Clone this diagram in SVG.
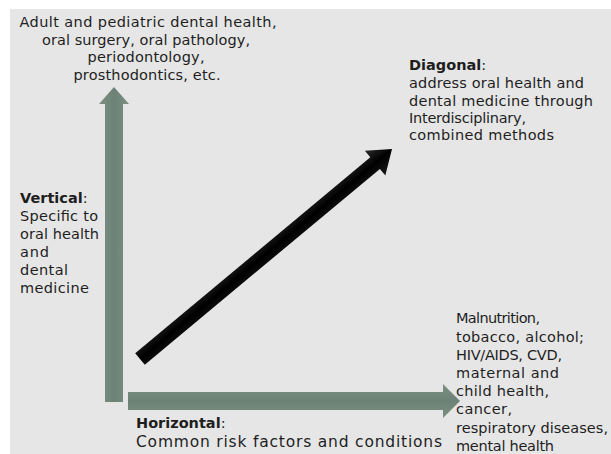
<svg xmlns="http://www.w3.org/2000/svg" width="611" height="454" viewBox="0 0 611 454">
  <defs>
    <linearGradient id="gv" x1="0" y1="0" x2="1" y2="0">
      <stop offset="0" stop-color="#7b8f83"/>
      <stop offset="0.5" stop-color="#6d8276"/>
      <stop offset="1" stop-color="#7b8f83"/>
    </linearGradient>
    <linearGradient id="gh" x1="0" y1="0" x2="0" y2="1">
      <stop offset="0" stop-color="#7b8f83"/>
      <stop offset="0.5" stop-color="#6d8276"/>
      <stop offset="1" stop-color="#7b8f83"/>
    </linearGradient>
    <linearGradient id="gd" x1="0" y1="0" x2="0" y2="1">
      <stop offset="0" stop-color="#2a2a2a"/>
      <stop offset="0.5" stop-color="#000000"/>
      <stop offset="1" stop-color="#1a1a1a"/>
    </linearGradient>
  </defs>
  <style>
    text { font-family: "DejaVu Sans", "Liberation Sans", sans-serif; font-size: 14.5px; fill: #1e1e1e; }
    .b { font-weight: bold; }
    .c { text-anchor: middle; }
    .big { font-size: 15.5px; }
  </style>
  <rect x="0" y="0" width="611" height="454" fill="#ffffff"/>
  <rect x="10" y="9" width="601" height="445" fill="#e6e6e6"/>

  <g id="connectors">
    <path id="vertical-arrow" d="M105,402 L105,104 L99,104 L114,87 L129,104 L123,104 L123,402 Z" fill="url(#gv)"/>
    <path id="horizontal-arrow" d="M128,392 L443,392 L443,384 L460,401 L443,418 L443,410 L128,410 Z" fill="url(#gh)"/>
    <path id="diagonal-arrow" transform="translate(140,359) rotate(-39.8)" d="M0,-7.5 L306,-7.5 L306,-16 L328,0 L306,16 L306,7.5 L0,7.5 Z" fill="url(#gd)"/>
  </g>

  <g id="top-label">
    <text class="c" x="148" y="27" textLength="257">Adult and pediatric dental health,</text>
    <text class="c" x="146" y="45" textLength="208">oral surgery, oral pathology,</text>
    <text class="c" x="146" y="62" textLength="117">periodontology,</text>
    <text class="c" x="147" y="80" textLength="147">prosthodontics, etc.</text>
  </g>

  <g id="diagonal-label">
    <text x="409" y="70"><tspan class="b">Diagonal</tspan>:</text>
    <text x="409" y="88" textLength="175">address oral health and</text>
    <text x="409" y="106" textLength="184">dental medicine through</text>
    <text x="409" y="123" textLength="117">Interdisciplinary,</text>
    <text x="409" y="140" textLength="145">combined methods</text>
  </g>

  <g id="vertical-label">
    <text x="20" y="203"><tspan class="b">Vertical</tspan>:</text>
    <text x="20" y="221" textLength="78">Specific to</text>
    <text x="20" y="239" textLength="79">oral health</text>
    <text x="20" y="257" textLength="29">and</text>
    <text x="20" y="275" textLength="48">dental</text>
    <text x="20" y="293" textLength="69">medicine</text>
  </g>

  <g id="horizontal-label">
    <text x="136" y="428"><tspan class="b">Horizontal</tspan>:</text>
    <text class="big" x="136" y="447" textLength="306">Common risk factors and conditions</text>
  </g>

  <g id="right-label">
    <text x="456" y="323" textLength="84">Malnutrition,</text>
    <text x="456" y="342" textLength="128">tobacco, alcohol;</text>
    <text x="456" y="360" textLength="106">HIV/AIDS, CVD,</text>
    <text x="456" y="378" textLength="103">maternal and</text>
    <text x="456" y="396" textLength="93">child health,</text>
    <text x="456" y="414" textLength="56">cancer,</text>
    <text x="456" y="433" textLength="152">respiratory diseases,</text>
    <text x="456" y="451" textLength="98">mental health</text>
  </g>
</svg>
